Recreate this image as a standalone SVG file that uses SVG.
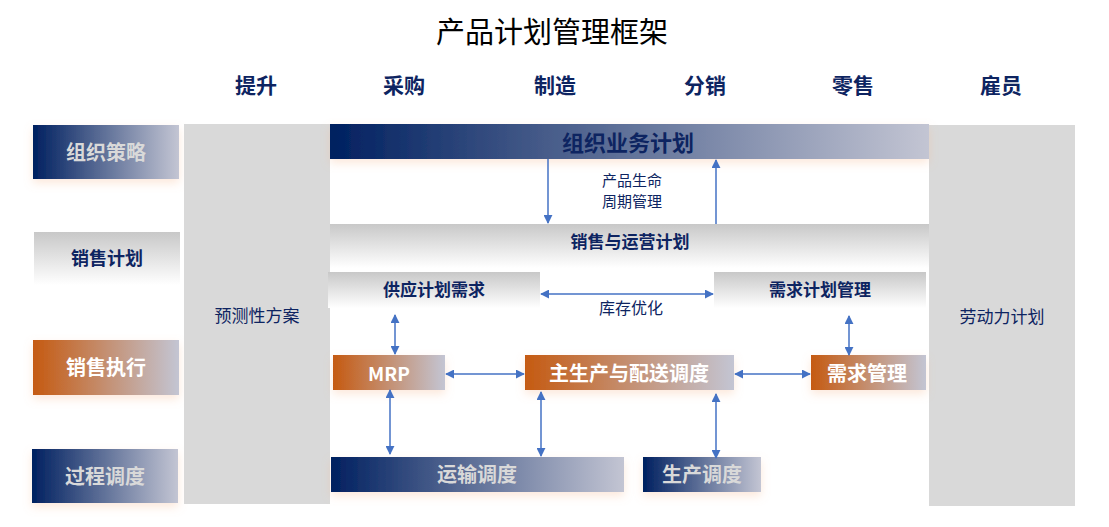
<svg xmlns="http://www.w3.org/2000/svg" width="1109" height="527" viewBox="0 0 1109 527">
<defs>
<linearGradient id="gNavy" x1="0" y1="0" x2="1" y2="0">
<stop offset="0" stop-color="#002060"/>
<stop offset="1" stop-color="#c3c5d3"/>
</linearGradient>
<linearGradient id="gOrange" x1="0" y1="0" x2="1" y2="0">
<stop offset="0" stop-color="#c55a11"/>
<stop offset="1" stop-color="#c3c5d3"/>
</linearGradient>
<linearGradient id="gGrey" x1="0" y1="0" x2="0" y2="1">
<stop offset="0" stop-color="#c8c8c8"/>
<stop offset="1" stop-color="#ffffff"/>
</linearGradient>
<filter id="glow" x="-20%" y="-30%" width="140%" height="170%">
<feDropShadow dx="0" dy="4" stdDeviation="5" flood-color="#f4b183" flood-opacity="0.3"/>
</filter>
<marker id="ah" viewBox="0 0 10 10" refX="9" refY="5" markerWidth="9" markerHeight="9" markerUnits="userSpaceOnUse" orient="auto-start-reverse">
<path d="M0,0 L10,5 L0,10 z" fill="#4472c4"/>
</marker>
</defs>
<style>
text{font-family:"Noto Sans CJK SC","Liberation Sans",sans-serif;text-anchor:middle;dominant-baseline:central}
.b{font-weight:bold}
.navy{fill:#0d2461}
.light{fill:#d9d9d9}
.white{fill:#ffffff}
.col{fill:#d9d9d9}
.conn line{stroke:#4472c4;stroke-width:1.5;marker-start:url(#ah);marker-end:url(#ah)}
.conn line.one{marker-start:none}
</style>
<rect width="1109" height="527" fill="#ffffff"/>

<g id="title"><text x="552" y="30" style="font-size:29px" fill="#000000">产品计划管理框架</text></g>

<g id="headers" style="font-size:21px">
<text x="256" y="84" class="navy b">提升</text>
<text x="404" y="84" class="navy b">采购</text>
<text x="555" y="84" class="navy b">制造</text>
<text x="705" y="84" class="navy b">分销</text>
<text x="853" y="84" class="navy b">零售</text>
<text x="1001" y="84" class="navy b">雇员</text>
</g>

<g id="row-org-strategy"><rect x="33" y="125" width="146" height="54" fill="url(#gNavy)" filter="url(#glow)"/><text x="106" y="151" class="b light" style="font-size:20px">组织策略</text></g>
<g id="row-sales-plan"><rect x="34" y="232" width="146" height="53" fill="url(#gGrey)"/><text x="107" y="257" class="b navy" style="font-size:18px">销售计划</text></g>
<g id="row-sales-exec"><rect x="33" y="340" width="146" height="55" fill="url(#gOrange)" filter="url(#glow)"/><text x="106" y="366" class="b white" style="font-size:20px">销售执行</text></g>
<g id="row-process"><rect x="32" y="449" width="146" height="54" fill="url(#gNavy)" filter="url(#glow)"/><text x="105" y="475" class="b light" style="font-size:20px">过程调度</text></g>

<g id="forecast"><rect x="184" y="124" width="146" height="380" class="col"/><text x="257" y="314" class="navy" style="font-size:17px">预测性方案</text></g>
<g id="labor"><rect x="929" y="125" width="146" height="381" class="col"/><text x="1002" y="315" class="navy" style="font-size:17px">劳动力计划</text></g>

<g id="org-plan"><rect x="330" y="124" width="599" height="35" fill="url(#gNavy)" filter="url(#glow)"/><text x="628" y="141" class="b navy" style="font-size:22px">组织业务计划</text></g>
<g id="lifecycle-label"><text x="632" y="179" class="navy" style="font-size:15px">产品生命</text><text x="632" y="200" class="navy" style="font-size:15px">周期管理</text></g>
<g id="sop"><rect x="330" y="224" width="599" height="44" fill="url(#gGrey)"/><text x="630" y="240" class="b navy" style="font-size:17px">销售与运营计划</text></g>
<g id="supply-plan"><rect x="328" y="272" width="212" height="36" fill="url(#gGrey)"/><text x="434" y="288" class="b navy" style="font-size:17px">供应计划需求</text></g>
<g id="demand-plan"><rect x="714" y="272" width="212" height="36" fill="url(#gGrey)"/><text x="820" y="288" class="b navy" style="font-size:17px">需求计划管理</text></g>
<g id="inventory-label"><text x="631" y="307" class="navy" style="font-size:16px">库存优化</text></g>

<g id="mrp"><rect x="333" y="355" width="112" height="35" fill="url(#gOrange)" filter="url(#glow)"/><text x="389" y="372" class="b white" style="font-size:19px">MRP</text></g>
<g id="mps"><rect x="525" y="355" width="209" height="35" fill="url(#gOrange)" filter="url(#glow)"/><text x="629" y="372" class="b white" style="font-size:20px">主生产与配送调度</text></g>
<g id="demand-mgmt"><rect x="811" y="355" width="115" height="35" fill="url(#gOrange)" filter="url(#glow)"/><text x="867" y="372" class="b white" style="font-size:20px">需求管理</text></g>

<g id="transport"><rect x="331" y="457" width="293" height="35" fill="url(#gNavy)" filter="url(#glow)"/><text x="477" y="473" class="b light" style="font-size:20px">运输调度</text></g>
<g id="production"><rect x="643" y="457" width="118" height="35" fill="url(#gNavy)" filter="url(#glow)"/><text x="702" y="473" class="b light" style="font-size:20px">生产调度</text></g>

<g id="connectors" class="conn">
<line class="one" x1="548" y1="159" x2="548" y2="223"/>
<line class="one" x1="716" y1="224" x2="716" y2="160"/>
<line x1="541" y1="294" x2="713" y2="294"/>
<line x1="395" y1="315" x2="395" y2="354"/>
<line x1="849" y1="316" x2="849" y2="355"/>
<line x1="446" y1="374" x2="524" y2="374"/>
<line x1="735" y1="374" x2="810" y2="374"/>
<line x1="390" y1="390" x2="390" y2="454"/>
<line x1="541" y1="392" x2="541" y2="456"/>
<line x1="716" y1="394" x2="716" y2="458"/>
</g>
</svg>
